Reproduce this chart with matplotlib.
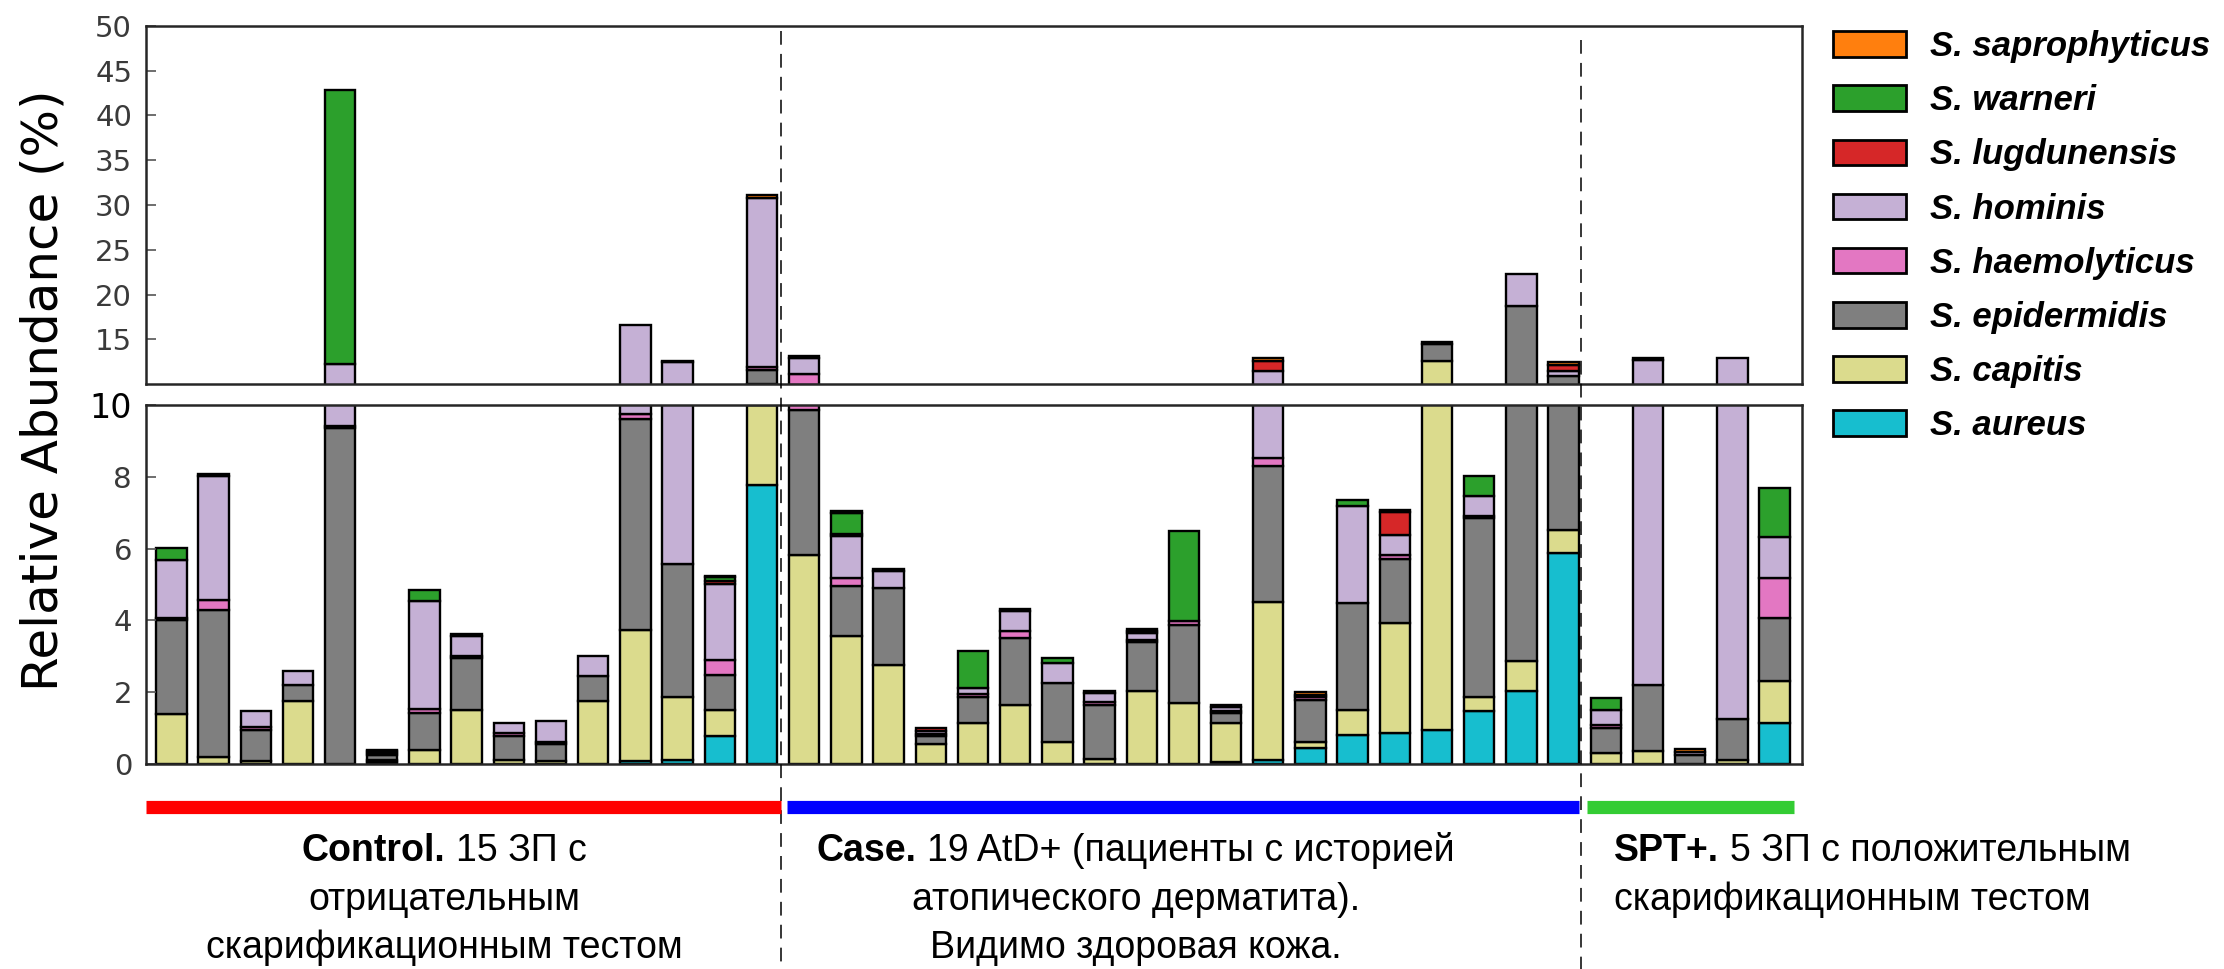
import numpy as np
import matplotlib.pyplot as plt
from matplotlib.patches import Patch
from matplotlib.lines import Line2D
from matplotlib.transforms import blended_transform_factory

W, H, DPI = 2224, 969, 100

# Legend order (top of stack first)
species = ["S. saprophyticus", "S. warneri", "S. lugdunensis", "S. hominis",
           "S. haemolyticus", "S. epidermidis", "S. capitis", "S. aureus"]
colors = ["#ff7f0e", "#2ca02c", "#d62728", "#c5b0d5",
          "#e377c2", "#7f7f7f", "#dbdb8d", "#17becf"]

# relative abundance (%) per sample: 15 control, 19 AtD+, 5 SPT+
aureus = [0, 0, 0, 0, 0, 0.05, 0, 0, 0, 0, 0, 0.07, 0.1, 0.77, 7.77,
          0, 0, 0, 0, 0, 0, 0, 0, 0, 0, 0.05, 0.1, 0.45, 0.8, 0.86, 0.96, 1.47, 2.04, 5.88,
          0, 0, 0, 0, 1.14]
capitis = [1.38, 0.2, 0.08, 1.75, 0, 0.05, 0.4, 1.51, 0.12, 0.08, 1.75, 3.65, 1.76, 0.74, 2.23,
           5.82, 3.56, 2.77, 0.56, 1.14, 1.65, 0.61, 0.15, 2.03, 1.7, 1.09, 4.42, 0.16, 0.71, 3.07, 11.64, 0.39, 0.82, 0.65,
           0.31, 0.35, 0, 0.12, 1.16]
epidermidis = [2.64, 4.08, 0.88, 0.44, 9.35, 0.15, 1.02, 1.45, 0.66, 0.48, 0.69, 5.9, 3.72, 0.98, 1.6,
               4.03, 1.39, 2.13, 0.21, 0.72, 1.86, 1.65, 1.5, 1.37, 2.17, 0.28, 3.78, 1.18, 2.98, 1.77, 1.84, 5.0, 15.84, 4.37,
               0.69, 1.84, 0.26, 1.12, 1.77]
haemolyticus = [0.06, 0.3, 0.08, 0, 0.06, 0.05, 0.12, 0.06, 0.07, 0.06, 0, 0.13, 0, 0.42, 0.3,
                1.25, 0.24, 0, 0.07, 0.09, 0.19, 0, 0.07, 0.06, 0.1, 0.06, 0.23, 0.08, 0, 0.12, 0, 0.06, 0, 0,
                0.1, 0, 0, 0, 1.12]
hominis = [1.59, 3.45, 0.45, 0.41, 2.79, 0.05, 2.99, 0.54, 0.3, 0.58, 0.56, 6.85, 6.92, 2.11, 18.9,
           1.77, 1.16, 0.47, 0.08, 0.17, 0.57, 0.56, 0.26, 0.19, 0, 0.12, 2.87, 0.06, 2.69, 0.57, 0, 0.54, 3.6, 0.6,
           0.41, 10.47, 0.08, 11.66, 1.13]
lugdunensis = [0, 0, 0, 0, 0, 0, 0, 0, 0, 0, 0, 0, 0, 0.08, 0,
               0, 0.05, 0, 0.08, 0, 0, 0, 0, 0.05, 0, 0, 1.2, 0, 0, 0.62, 0, 0, 0, 0.64,
               0, 0, 0, 0, 0]
warneri = [0.35, 0, 0, 0, 30.7, 0, 0.33, 0, 0, 0, 0, 0, 0, 0.1, 0,
           0, 0.6, 0, 0, 1.02, 0, 0.13, 0, 0, 2.52, 0, 0, 0, 0.17, 0, 0, 0.56, 0, 0,
           0.32, 0, 0, 0, 1.36]
saprophyticus = [0, 0.05, 0, 0, 0, 0.05, 0, 0.06, 0, 0, 0, 0, 0.1, 0.05, 0.3,
                 0.28, 0.05, 0.06, 0, 0, 0.06, 0, 0.05, 0.05, 0, 0.05, 0.25, 0.07, 0, 0.07, 0.3, 0, 0, 0.28,
                 0, 0.3, 0.08, 0, 0]

stack = [aureus, capitis, epidermidis, haemolyticus, hominis,
         lugdunensis, warneri, saprophyticus]
stack_colors = colors[::-1]

n_control, n_case, n_spt = 15, 19, 5
x = np.arange(n_control + n_case + n_spt)


def fx(px):
    return px / W


def fy(py):
    return 1 - py / H


fig = plt.figure(figsize=(W / DPI, H / DPI), dpi=DPI)
left, right = 146, 1802
ax_top = fig.add_axes([fx(left), fy(384), fx(right) - fx(left), (384 - 26) / H])
ax_bot = fig.add_axes([fx(left), fy(764), fx(right) - fx(left), (764 - 405) / H])

for ax in (ax_top, ax_bot):
    bottom = np.zeros(len(x))
    for vals, col in zip(stack, stack_colors):
        vals = np.array(vals, dtype=float)
        m = vals > 0
        ax.bar(x[m], vals[m], 0.72, bottom=bottom[m], color=col,
               edgecolor="black", linewidth=1.7)
        bottom += vals
    ax.set_xlim(-0.6, 38.65)
    ax.set_xticks([])
    for s in ax.spines.values():
        s.set_linewidth(1.8)
        s.set_color("#262626")
    ax.tick_params(axis="y", direction="in", length=7, width=1.2, pad=10,
                   labelsize=21, labelcolor="#3a3a3a", color="#555555")

ax_top.set_ylim(10, 50)
ax_top.set_yticks(range(15, 51, 5))
ax_bot.set_ylim(0, 10)
ax_bot.set_yticks(range(0, 11, 2))
top_label = ax_bot.get_yticklabels()[-1]
top_label.set_color("black")
top_label.set_fontsize(24)

fig.text(fx(44), fy(390), "Relative Abundance (%)", rotation=90,
         fontsize=36, ha="center", va="center")

# group separators and group bars
trans = blended_transform_factory(ax_bot.transData, fig.transFigure)
for xs, ytop in [(14.45, 31), (33.42, 40)]:
    fig.add_artist(Line2D([xs, xs], [fy(ytop), 0], transform=trans, color="black",
                          lw=1.1, ls=(0, (9, 6))))
for x0, x1, c in [(-0.6, 14.44, "#ff0000"), (14.6, 33.36, "#0000ff"), (33.55, 38.46, "#33cc33")]:
    fig.add_artist(Line2D([x0, x1], [fy(807), fy(807)], transform=trans, color=c,
                          lw=9.5, solid_capstyle="butt"))

# group captions
renderer = fig.canvas.get_renderer()
FS = 27


def put_line(parts, x_px, y_px, align="center"):
    texts = []
    for s, weight in parts:
        t = fig.text(0, fy(y_px), s, fontsize=FS, fontweight=weight,
                     family="Liberation Sans", ha="left", va="baseline")
        texts.append(t)
    widths = [t.get_window_extent(renderer).width for t in texts]
    gap = 0.278 * FS * DPI / 72
    total = sum(widths) + gap * (len(texts) - 1)
    pos = x_px - total / 2 if align == "center" else x_px
    for t, w in zip(texts, widths):
        t.set_x(fx(pos))
        pos += w + gap


put_line([("Control.", "bold"), ("15 ЗП с", "normal")], 444, 861)
put_line([("отрицательным", "normal")], 444, 910)
put_line([("скарификационным тестом", "normal")], 444, 958)
put_line([("Case.", "bold"), ("19 AtD+ (пациенты с историей", "normal")], 1136, 861)
put_line([("атопического дерматита).", "normal")], 1136, 910)
put_line([("Видимо здоровая кожа.", "normal")], 1136, 958)
put_line([("SPT+.", "bold"), ("5 ЗП с положительным", "normal")], 1614, 861, "left")
put_line([("скарификационным тестом", "normal")], 1614, 910, "left")

handles = [Patch(facecolor=c, edgecolor="black", linewidth=2) for c in colors]
fig.legend(handles, species, loc="upper left", bbox_to_anchor=(fx(1833), fy(30)),
           frameon=False, borderpad=0, borderaxespad=0, handlelength=2.1,
           handleheight=0.75, handletextpad=0.7, labelspacing=0.61,
           prop=dict(family="Liberation Sans", weight="bold", style="italic", size=25))

fig.savefig("out.png", dpi=DPI)
